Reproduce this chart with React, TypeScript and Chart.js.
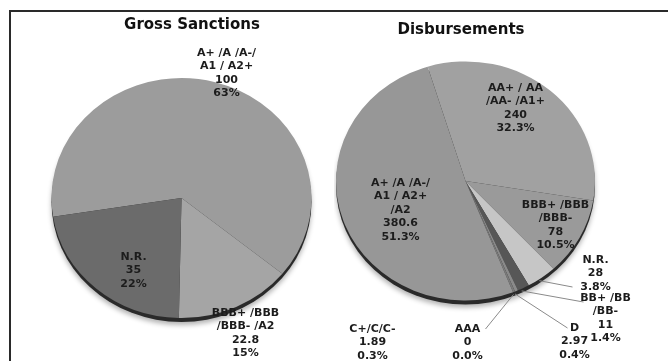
import React, { useEffect, useRef } from "react";
import { Chart, registerables } from "chart.js";
Chart.register(...registerables);

// ---------- data ----------
const grossTitle = "Gross Sanctions";
const grossCategories = [["A+ /A /A-/", "A1 / A2+"], ["BBB+ /BBB", "/BBB- /A2"], ["N.R."]];
const grossValues = [100, 22.8, 35];
const grossPercents = ["63%", "15%", "22%"];
const grossColors = ["#9c9c9c", "#a5a5a5", "#6b6b6b"];

const disbTitle = "Disbursements";
const disbCategories = [
  ["AA+ / AA", "/AA- /A1+"],
  ["BBB+ /BBB", "/BBB-"],
  ["N.R."],
  ["BB+ /BB", "/BB-"],
  ["D"],
  ["AAA"],
  ["C+/C/C-"],
  ["A+ /A /A-/", "A1 / A2+", "/A2"],
];
const disbValues = [240, 78, 28, 11, 2.97, 0, 1.89, 380.6];
const disbPercents = ["32.3%", "10.5%", "3.8%", "1.4%", "0.4%", "0.0%", "0.3%", "51.3%"];
const disbColors = ["#a1a1a1", "#9a9a9a", "#c6c6c6", "#575757", "#8a8a8a", "#707070", "#7a7a7a", "#979797"];

// ---------- layout (label offsets from pie centre, px) ----------
type LabelPos = { dx: number; dy: number; line?: { dx: number; dy: number } };
const grossLabelPos: LabelPos[] = [
  { dx: 45, dy: -145 },
  { dx: 64, dy: 115 },
  { dx: -48, dy: 59 },
];
const disbLabelPos: LabelPos[] = [
  { dx: 50, dy: -93 },
  { dx: 90, dy: 24 },
  { dx: 130, dy: 79, line: { dx: 107, dy: 106 } },
  { dx: 140, dy: 117, line: { dx: 118, dy: 121 } },
  { dx: 109, dy: 147, line: { dx: 102, dy: 147 } },
  { dx: 2, dy: 148, line: { dx: 20, dy: 148 } },
  { dx: -93, dy: 148 },
  { dx: -65, dy: 2 },
];

const FONT = "'DejaVu Sans', Verdana, sans-serif";

function makeDeco(opts: {
  title: string;
  titleDx: number;
  titleDy: number;
  cats: string[][];
  values: number[];
  percents: string[];
  pos: LabelPos[];
  sy: number;
}) {
  return {
    id: "pieDeco",
    beforeDatasetsDraw(chart: any) {
      const ctx = chart.ctx;
      const a = chart.getDatasetMeta(0).data[0];
      const { x, y, outerRadius } = a;
      ctx.save();
      ctx.translate(x, y);
      ctx.scale(1, opts.sy);
      ctx.shadowColor = "rgba(0,0,0,0.3)";
      ctx.shadowBlur = 5;
      ctx.shadowOffsetY = 3;
      ctx.beginPath();
      ctx.arc(0, 4 / opts.sy, outerRadius, 0, Math.PI * 2);
      ctx.fillStyle = "#2a2a2a";
      ctx.fill();
      ctx.restore();
      ctx.save();
      ctx.translate(x, y);
      ctx.scale(1, opts.sy);
      ctx.translate(-x, -y);
    },
    afterDatasetsDraw(chart: any) {
      const ctx = chart.ctx;
      ctx.restore();
      const meta = chart.getDatasetMeta(0);
      const a0 = meta.data[0];
      const cx = a0.x;
      const cy = a0.y;
      // title
      ctx.save();
      ctx.fillStyle = "#111";
      ctx.font = `bold 15px ${FONT}`;
      ctx.textAlign = "center";
      ctx.textBaseline = "middle";
      ctx.fillText(opts.title, cx + opts.titleDx, cy + opts.titleDy);
      // labels
      ctx.font = `bold 11px ${FONT}`;
      meta.data.forEach((arc: any, i: number) => {
        const p = opts.pos[i];
        if (p.line) {
          const mid = (arc.startAngle + arc.endAngle) / 2;
          const r = arc.outerRadius;
          ctx.strokeStyle = "#8a8a8a";
          ctx.lineWidth = 1;
          ctx.beginPath();
          ctx.moveTo(cx + r * Math.cos(mid) * 0.97, cy + r * Math.sin(mid) * opts.sy + 3);
          ctx.lineTo(cx + p.line.dx, cy + p.line.dy);
          ctx.stroke();
        }
        const lines = [...opts.cats[i], String(opts.values[i]), opts.percents[i]];
        ctx.fillStyle = "#1c1c1c";
        lines.forEach((t, k) => {
          ctx.fillText(t, cx + p.dx, cy + p.dy + k * 13.5);
        });
      });
      ctx.restore();
    },
  };
}

function PieChart(props: {
  left: number;
  width: number;
  padding: { left: number; right: number; top: number; bottom: number };
  radius: number;
  rotation: number;
  values: number[];
  colors: string[];
  cats: string[][];
  percents: string[];
  pos: LabelPos[];
  title: string;
  titleDx: number;
  titleDy: number;
  sy: number;
}) {
  const ref = useRef<HTMLCanvasElement>(null);
  useEffect(() => {
    const chart = new Chart(ref.current!, {
      type: "pie",
      data: {
        labels: props.cats.map((c) => c.join(" ")),
        datasets: [
          {
            data: props.values,
            backgroundColor: props.colors,
            borderWidth: 0,
            radius: props.radius,
          } as any,
        ],
      },
      options: {
        responsive: false,
        animation: false,
        rotation: props.rotation,
        layout: { padding: props.padding },
        plugins: { legend: { display: false }, tooltip: { enabled: false }, title: { display: false } },
      },
      plugins: [
        makeDeco({
          title: props.title,
          titleDx: props.titleDx,
          titleDy: props.titleDy,
          cats: props.cats,
          values: props.values,
          percents: props.percents,
          pos: props.pos,
          sy: props.sy,
        }),
      ],
    });
    return () => chart.destroy();
  }, []);
  return (
    <canvas
      ref={ref}
      width={props.width}
      height={349}
      style={{ position: "absolute", left: props.left, top: 12, width: props.width, height: 349, display: "block" }}
    />
  );
}

export default function App() {
  return (
    <div
      style={{
        position: "absolute",
        left: 0,
        top: 0,
        width: 668,
        height: 361,
        overflow: "hidden",
        background: "#fff",
      }}
    >
      <div
        style={{
          position: "absolute",
          left: 9,
          top: 10,
          width: 657,
          height: 380,
          borderTop: "2px solid #2a2a2a",
          borderLeft: "2px solid #2a2a2a",
        }}
      />
      <PieChart
        left={11}
        width={323}
        padding={{ left: 18, right: 0, top: 23, bottom: 0 }}
        radius={130}
        rotation={261}
        values={grossValues}
        colors={grossColors}
        cats={grossCategories}
        percents={grossPercents}
        pos={grossLabelPos}
        title={grossTitle}
        titleDx={10.5}
        titleDy={-173}
        sy={0.923}
      />
      <PieChart
        left={334}
        width={334}
        padding={{ left: 0, right: 71, top: 0, bottom: 11 }}
        radius={129.5}
        rotation={343}
        values={disbValues}
        colors={disbColors}
        cats={disbCategories}
        percents={disbPercents}
        pos={disbLabelPos}
        title={disbTitle}
        titleDx={-4.5}
        titleDy={-151}
        sy={0.923}
      />
    </div>
  );
}
